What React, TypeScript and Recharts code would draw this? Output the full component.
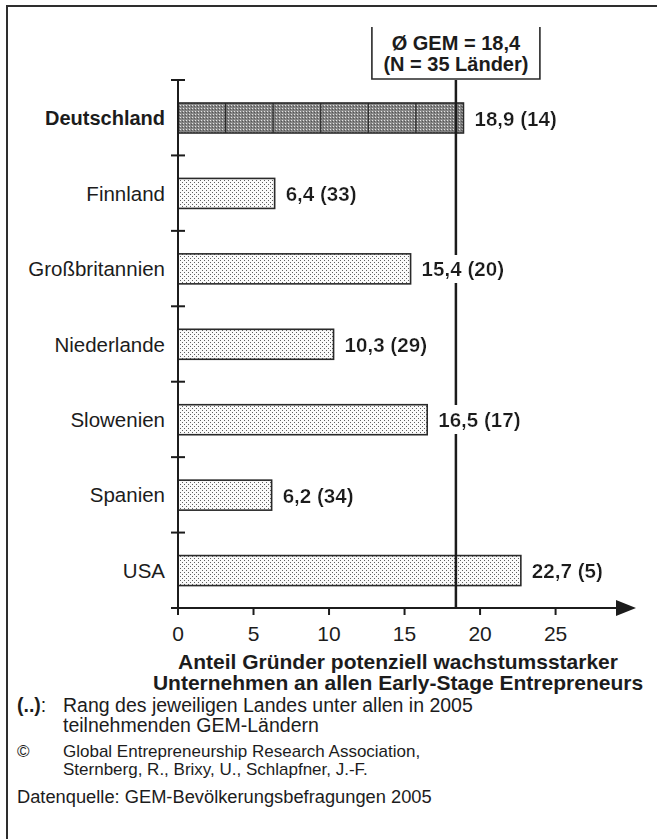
import React from 'react';
import { BarChart, Bar, XAxis, YAxis, ReferenceLine, LabelList } from 'recharts';

// GEM 2005: Anteil wachstumsstarker Gründer, Rang in Klammern
const countries = ['Deutschland', 'Finnland', 'Großbritannien', 'Niederlande', 'Slowenien', 'Spanien', 'USA'];
const shares = [18.9, 6.4, 15.4, 10.3, 16.5, 6.2, 22.7];
const ranks = [14, 33, 20, 29, 17, 34, 5];
const xTicks = [0, 5, 10, 15, 20, 25];
const gemMean = 18.4;
const gemCount = 35;
const highlighted = 'Deutschland';

const data = countries.map((name, i) => ({ name, value: shares[i], rank: ranks[i] }));

const FONT = 'Arial, "Liberation Sans", Helvetica, sans-serif';
const INK = '#1c1c1c';

const W = 657;
const H = 839;
const margin = { top: 80, right: 41, bottom: 191, left: 0 };
const xAxisH = 40;
const yAxisW = 178;
const band = (H - margin.top - margin.bottom - xAxisH) / countries.length;
const fmt = (v: number) => v.toFixed(1).replace('.', ',');

const CountryTick = (props: any) => {
  const { x, y, payload, index } = props;
  const axisX = x + 13;
  const bold = payload.value === highlighted;
  const last = index === countries.length - 1;
  return (
    <g>
      <line x1={axisX - 7} x2={axisX + 7} y1={y - band / 2} y2={y - band / 2} stroke={INK} strokeWidth={2} />
      {last && (
        <>
          <line x1={axisX - 7} x2={axisX} y1={y + band / 2} y2={y + band / 2} stroke={INK} strokeWidth={2} />
          <line x1={axisX} x2={axisX} y1={y + band / 2} y2={y + band / 2 + 6} stroke={INK} strokeWidth={2} />
        </>
      )}
      <text x={x} y={y} textAnchor="end" dominantBaseline="central" fontFamily={FONT}
        fontSize={bold ? 20 : 20.5} fontWeight={bold ? 'bold' : 'normal'} fill={INK}>
        {payload.value}
      </text>
    </g>
  );
};

const ValueTick = (props: any) => {
  const { x, y, payload } = props;
  return (
    <text x={x} y={y} dy="0.72em" textAnchor="middle" fontFamily={FONT} fontSize={21} fill={INK}>
      {payload.value}
    </text>
  );
};

const BarShape = (props: any) => {
  const { x, y, width, height, payload } = props;
  const hi = payload.name === highlighted;
  return (
    <g>
      <rect x={x} y={y} width={width} height={height} fill={hi ? 'url(#dotsDark)' : 'url(#dotsLight)'}
        stroke="#2a2a2a" strokeWidth={1.6} />
      {hi && [1, 2, 3, 4, 5].map((i) => (
        <line key={i} x1={x + (width * i) / 6} x2={x + (width * i) / 6} y1={y} y2={y + height}
          stroke="#2a2a2a" strokeWidth={1.2} />
      ))}
    </g>
  );
};

const EmptyShape = () => <g />;

const ValueLabel = (props: any) => {
  const { x, y, width, height, index } = props;
  const d = data[index];
  return (
    <text x={x + width + 11} y={y + height / 2} dominantBaseline="central" fontFamily={FONT}
      fontSize={20.6} fontWeight="bold" fill={INK} filter="url(#whiteBg)">
      {`${fmt(d.value)} (${d.rank})`}
    </text>
  );
};

const MeanBox = (props: any) => {
  const { viewBox } = props;
  const cx = viewBox.x;
  const top = viewBox.y;
  const half = 84;
  return (
    <g>
      <path d={`M${cx - half},${top - 53} V${top - 1} H${cx + half} V${top - 53}`} fill="none"
        stroke="#2a2a2a" strokeWidth={1.6} />
      <text x={cx} y={top - 37.5} textAnchor="middle" dominantBaseline="central" fontFamily={FONT}
        fontSize={20} fontWeight="bold" fill={INK}>
        {`Ø GEM = ${fmt(gemMean)}`}
      </text>
      <text x={cx} y={top - 16.5} textAnchor="middle" dominantBaseline="central" fontFamily={FONT}
        fontSize={20} fontWeight="bold" fill={INK}>
        {`(N = ${gemCount} Länder)`}
      </text>
    </g>
  );
};

export default function App() {
  return (
    <div style={{ position: 'absolute', left: 0, top: 0, width: W, height: H, background: '#fff', fontFamily: FONT, color: INK }}>
      <svg width={0} height={0} style={{ position: 'absolute' }}>
        <defs>
          <pattern id="dotsLight" width={4} height={4} patternUnits="userSpaceOnUse">
            <rect width={4} height={4} fill="#fafafa" />
            <rect x={0} y={0} width={1} height={1} fill="#5f5f5f" />
            <rect x={2} y={2} width={1} height={1} fill="#5f5f5f" />
          </pattern>
          <pattern id="dotsDark" width={3} height={3} patternUnits="userSpaceOnUse">
            <rect width={3} height={3} fill="#858585" />
            <rect x={0} y={0} width={1} height={1} fill="#e4e4e4" />
            <rect x={2} y={1} width={1} height={1} fill="#555" />
          </pattern>
          <marker id="arrowHead" viewBox="0 0 20 16" refX={0} refY={8} markerWidth={20} markerHeight={16}
            markerUnits="userSpaceOnUse" orient="auto">
            <path d="M0,0 L20,8 L0,16 z" fill={INK} />
          </marker>
          <filter id="whiteBg" x="-0.04" y="-0.1" width="1.08" height="1.2">
            <feFlood floodColor="#ffffff" />
            <feComposite in="SourceGraphic" operator="over" />
          </filter>
        </defs>
      </svg>

      <div style={{ position: 'absolute', left: 6, top: 5, right: 0, height: 2, background: '#2e2e2e' }} />
      <div style={{ position: 'absolute', left: 6, top: 5, bottom: 0, width: 2, background: '#2e2e2e' }} />

      <BarChart width={W} height={H} data={data} layout="vertical" margin={margin}>
        <XAxis type="number" domain={[0, 29]} ticks={xTicks} height={xAxisH} tick={<ValueTick />}
          tickSize={7} tickMargin={11} tickLine={{ stroke: INK, strokeWidth: 2 }}
          axisLine={{ stroke: INK, strokeWidth: 2, markerEnd: 'url(#arrowHead)' }} />
        <YAxis type="category" dataKey="name" width={yAxisW} tick={<CountryTick />} tickSize={0}
          tickMargin={13} tickLine={false} axisLine={{ stroke: INK, strokeWidth: 2 }} interval={0} />
        <YAxis yAxisId="labels" type="category" dataKey="name" hide />
        <Bar dataKey="value" barSize={30} shape={<BarShape />} isAnimationActive={false} />
        <ReferenceLine x={gemMean} stroke={INK} strokeWidth={2.5} ifOverflow="visible" label={<MeanBox />} />
        <Bar dataKey="value" yAxisId="labels" barSize={30} shape={<EmptyShape />} isAnimationActive={false}>
          <LabelList content={<ValueLabel />} />
        </Bar>
      </BarChart>

      <div style={{ position: 'absolute', left: 148, width: 500, top: 651, textAlign: 'center', fontWeight: 'bold', fontSize: 21, lineHeight: '21px' }}>
        Anteil Gründer potenziell wachstumsstarker<br />Unternehmen an allen Early-Stage Entrepreneurs
      </div>

      <div style={{ position: 'absolute', left: 17, top: 695, fontSize: 19.5, lineHeight: '20px' }}>
        <b>(..)</b>:
      </div>
      <div style={{ position: 'absolute', left: 63, top: 695, fontSize: 19.5, lineHeight: '20px' }}>
        Rang des jeweiligen Landes unter allen in 2005<br />teilnehmenden GEM-Ländern
      </div>

      <div style={{ position: 'absolute', left: 17, top: 743, fontSize: 17, lineHeight: '18px' }}>©</div>
      <div style={{ position: 'absolute', left: 63, top: 743, fontSize: 17, lineHeight: '18px' }}>
        Global Entrepreneurship Research Association,<br />Sternberg, R., Brixy, U., Schlapfner, J.-F.
      </div>

      <div style={{ position: 'absolute', left: 17, top: 787, fontSize: 18.3, lineHeight: '20px' }}>
        Datenquelle: GEM-Bevölkerungsbefragungen 2005
      </div>
    </div>
  );
}
